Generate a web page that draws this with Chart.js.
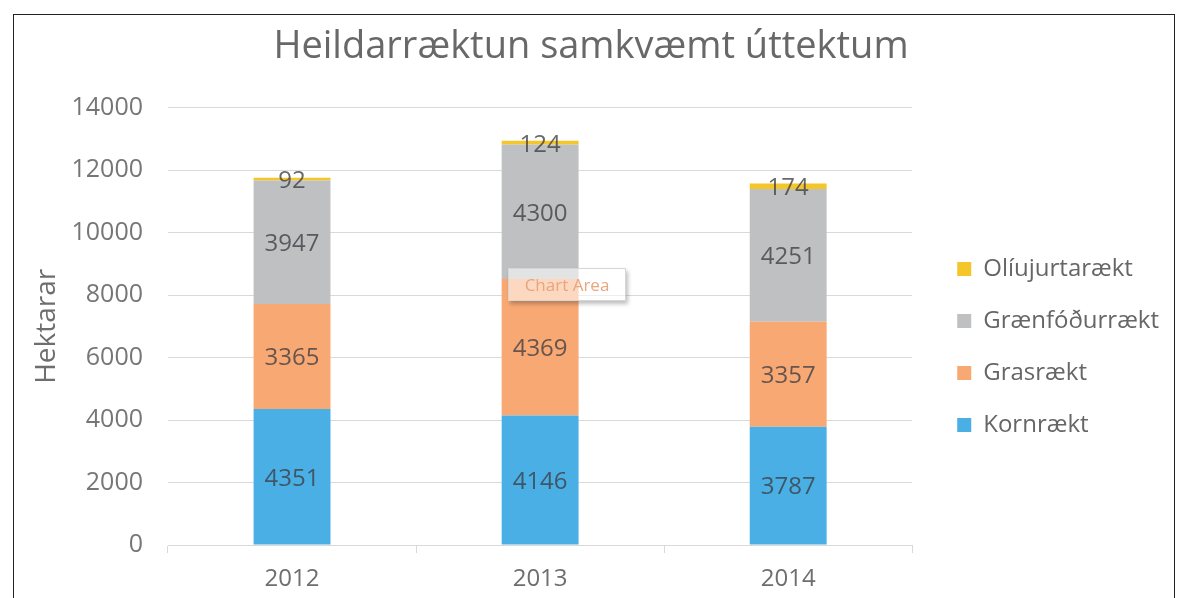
<!DOCTYPE html>
<html lang="is">
<head>
  <meta charset="UTF-8" />
  <title>Heildarræktun samkvæmt úttektum</title>
  <script src="https://cdn.jsdelivr.net/npm/chart.js"></script>
  <style>
    body {
      margin: 0;
      background: #ffffff;
      font-family: 'Open Sans', sans-serif;
      overflow: hidden;
    }
    .frame {
      position: absolute;
      left: 13px;
      top: 14px;
      width: 1162px;
      height: 620px;
      border: 1px solid #222;
      box-sizing: border-box;
    }
    .wrap {
      position: absolute;
      left: 0;
      top: 0;
      width: 1194px;
      height: 598px;
    }
    /* smá "Chart Area" skilti eins og í skjámyndinni */
    .tip {
      position: absolute;
      left: 508px;
      top: 268px;
      width: 116px;
      height: 31px;
      background: rgba(255, 255, 255, 0.55);
      border: 1px solid #d6d6d6;
      box-shadow: 2px 3px 4px rgba(0, 0, 0, 0.25);
      color: #e9a57c;
      font-size: 17px;
      line-height: 31px;
      text-align: center;
    }
  </style>
</head>
<body>
  <div class="wrap"><canvas id="chart" width="1194" height="598"></canvas></div>
  <div class="frame"></div>
  <div class="tip">Chart Area</div>

  <script>
    // gögn
    const ar = ['2012', '2013', '2014'];
    const kornraekt = [4351, 4146, 3787];
    const grasraekt = [3365, 4369, 3357];
    const graenfodurraekt = [3947, 4300, 4251];
    const oliujurtaraekt = [92, 124, 174];
    const yTicks = [0, 2000, 4000, 6000, 8000, 10000, 12000, 14000];

    const textColor = '#6e6e6e';
    const gridColor = '#d9d9d9';
    const font = "'Open Sans', sans-serif";

    // teiknar gildin inni í súlunum
    const gildiPlugin = {
      id: 'gildi',
      afterDatasetsDraw(chart) {
        const ctx = chart.ctx;
        ctx.save();
        ctx.font = "24px " + font;
        ctx.fillStyle = 'rgba(60, 62, 68, 0.78)';
        ctx.textAlign = 'center';
        ctx.textBaseline = 'middle';
        chart.data.datasets.forEach((ds, i) => {
          const meta = chart.getDatasetMeta(i);
          meta.data.forEach((bar, j) => {
            const mid = (bar.y + bar.base) / 2;
            ctx.fillText(String(ds.data[j]), bar.x, mid + 2);
          });
        });
        ctx.restore();
      }
    };

    // færir skýringuna aðeins til hægri og niður
    const faeraSkyringu = {
      id: 'faeraSkyringu',
      afterLayout(chart) {
        chart.legend.left += 17;
        chart.legend.right += 17;
        chart.legend.top += 48;
        chart.legend.bottom += 48;
      }
    };

    new Chart(document.getElementById('chart'), {
      type: 'bar',
      data: {
        labels: ar,
        datasets: [
          { label: 'Kornrækt', data: kornraekt, backgroundColor: '#4aafe4' },
          { label: 'Grasrækt', data: grasraekt, backgroundColor: '#f8a873' },
          { label: 'Grænfóðurrækt', data: graenfodurraekt, backgroundColor: '#bfc0c2' },
          { label: 'Olíujurtarækt', data: oliujurtaraekt, backgroundColor: '#f5c62a' }
        ]
      },
      options: {
        responsive: false,
        animation: false,
        devicePixelRatio: 1,
        layout: { padding: { left: 30, right: 42, top: 0, bottom: 0 } },
        datasets: { bar: { categoryPercentage: 1, barPercentage: 0.31 } },
        plugins: {
          title: {
            display: true,
            text: 'Heildarræktun samkvæmt úttektum',
            color: '#686868',
            font: { family: font, size: 38, weight: 'normal' },
            padding: { top: 24, bottom: 38 }
          },
          legend: {
            position: 'right',
            reverse: true,
            align: 'center',
            labels: {
              color: '#666666',
              font: { family: font, size: 24 },
              boxWidth: 14,
              boxHeight: 14,
              padding: 28
            }
          },
          tooltip: { enabled: false }
        },
        scales: {
          x: {
            stacked: true,
            grid: { offset: true, drawOnChartArea: false, color: gridColor, tickLength: 8 },
            border: { color: gridColor },
            ticks: {
              color: textColor,
              padding: 12,
              font: { family: font, size: 24 }
            },
            afterFit(scale) { scale.height = 53; }
          },
          y: {
            stacked: true,
            min: 0,
            max: 14000,
            afterBuildTicks(scale) { scale.ticks = yTicks.map(v => ({ value: v })); },
            grid: { color: gridColor, drawTicks: false },
            border: { display: false },
            ticks: {
              color: '#767676',
              padding: 25,
              font: { family: font, size: 25 },
              callback: v => String(v)
            },
            title: {
              display: true,
              text: 'Hektarar',
              color: textColor,
              font: { family: font, size: 28 },
              padding: 0
            },
            afterFit(scale) { scale.width = 138; }
          }
        }
      },
      plugins: [gildiPlugin, faeraSkyringu]
    });
  </script>
</body>
</html>
